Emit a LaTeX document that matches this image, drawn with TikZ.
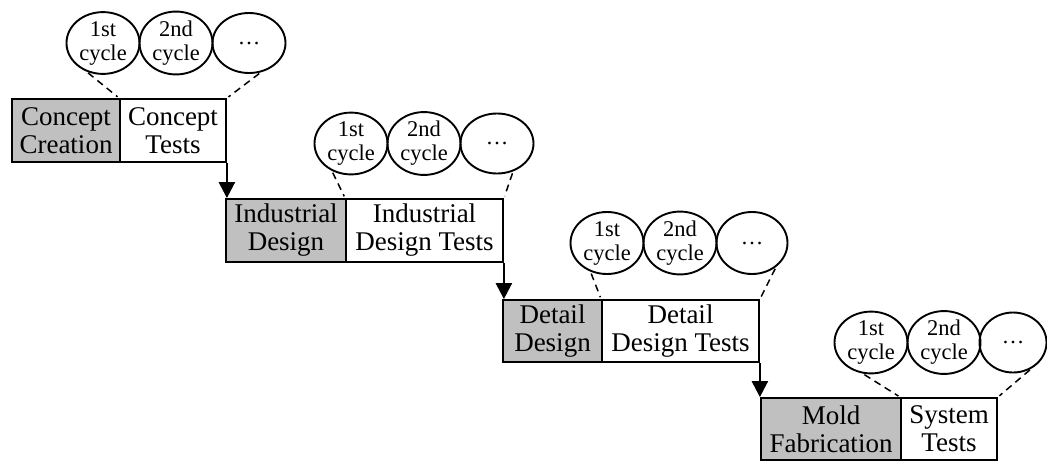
\documentclass[tikz,border=0pt]{standalone}
\usepackage{fontspec}
\setmainfont{Liberation Serif}
\usetikzlibrary{arrows.meta,shapes.geometric}
\definecolor{phasegray}{RGB}{192,192,192}
\tikzset{
  box/.style={draw, line width=1.8pt, inner sep=0pt, align=center,
    minimum height=63pt, font=\fontsize{27}{28}\selectfont},
  phasebox/.style={box, fill=phasegray},
  testbox/.style={box, fill=white},
  cyc/.style={draw, ellipse, line width=1.9pt, inner sep=0pt, align=center,
    minimum width=73pt, minimum height=60pt, font=\fontsize{22.5}{24}\selectfont},
  link/.style={dash pattern=on 7pt off 5pt, line width=1.5pt, shorten <=2pt, shorten >=2pt},
  flow/.style={line width=2.4pt, -{Triangle[width=16pt,length=16pt]}}
}
\begin{document}
\begin{tikzpicture}[x=1pt,y=-1pt]
\useasboundingbox (0,0) rectangle (1047,461);

% stage 1
\node[phasebox, minimum width=108pt] (p1) at (66,130.5) {Concept\\Creation};
\node[testbox, minimum width=106pt] (t1) at (173,130.5) {Concept\\Tests};
\node[cyc] (a1) at (103,43) {1st\\cycle};
\node[cyc] (b1) at (176,43) {2nd\\cycle};
\node[cyc] (c1) at (249,43) {\dots};
\draw[link] (a1.240) -- (t1.north west);
\draw[link] (c1.-68) -- (t1.north east);

% stage 2
\node[phasebox, minimum width=120pt] (p2) at (286,230.5) {Industrial\\Design};
\node[testbox, minimum width=157pt] (t2) at (424.5,230.5) {Industrial\\Design Tests};
\node[cyc] (a2) at (351,143.5) {1st\\cycle};
\node[cyc] (b2) at (424,143.5) {2nd\\cycle};
\node[cyc] (c2) at (497,143.5) {\dots};
\draw[link] (a2.235) -- (t2.north west);
\draw[link] (c2.-60) -- (t2.north east);

% stage 3
\node[phasebox, minimum width=99pt, minimum height=62pt] (p3) at (552.5,331) {Detail\\Design};
\node[testbox, minimum width=157pt, minimum height=62pt] (t3) at (680.5,331) {Detail\\Design Tests};
\node[cyc, minimum height=62pt] (a3) at (607,243) {1st\\cycle};
\node[cyc, minimum height=62pt] (b3) at (680,243) {2nd\\cycle};
\node[cyc, minimum height=62pt, minimum width=71pt] (c3) at (752,243) {\dots};
\draw[link] (a3.240) -- (t3.north west);
\draw[link] (c3.-45) -- (t3.north east);

% stage 4
\node[phasebox, minimum width=140pt, minimum height=62pt] (p4) at (831,429) {Mold\\Fabrication};
\node[testbox, minimum width=96pt, minimum height=62pt] (t4) at (949,429) {System\\Tests};
\node[cyc] (a4) at (871,342.5) {1st\\cycle};
\node[cyc] (b4) at (944,342.5) {2nd\\cycle};
\node[cyc, minimum width=67pt] (c4) at (1013,342.5) {\dots};
\draw[link] (a4.255) -- (t4.north west);
\draw[link] (c4.-55) -- (t4.north east);

% sequence arrows, straight down from each test box to the next phase
\draw[flow] (t1.south east) -- (t1.south east |- p2.north);
\draw[flow] (t2.south east) -- (t2.south east |- p3.north);
\draw[flow] (t3.south east) -- (t3.south east |- p4.north);
\end{tikzpicture}
\end{document}
